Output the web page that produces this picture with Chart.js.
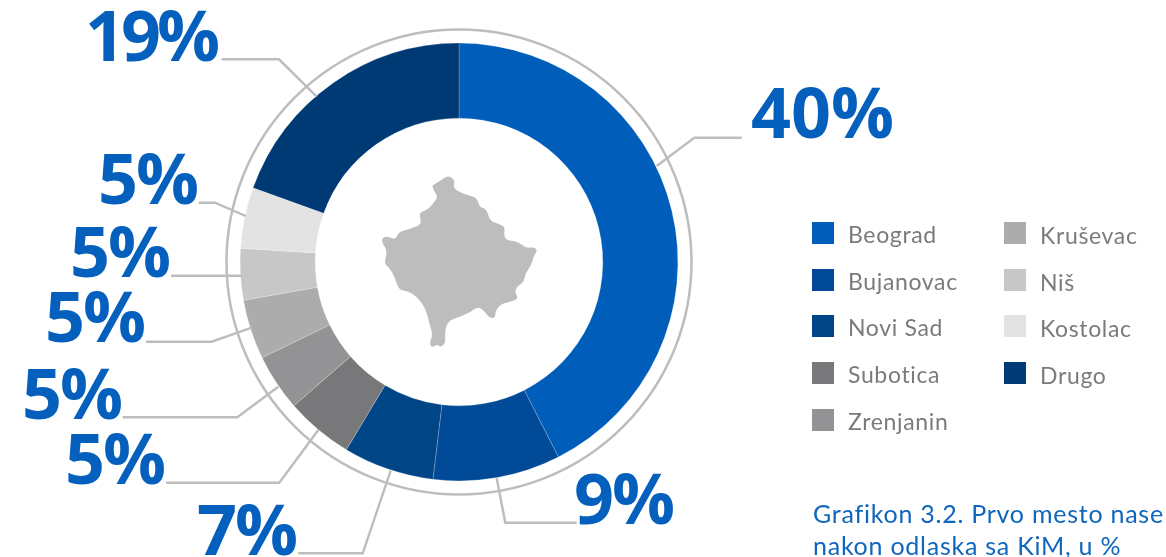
<!DOCTYPE html>
<html>
<head>
<meta charset="utf-8">
<script src="https://cdn.jsdelivr.net/npm/chart.js@4"></script>
<style>
html,body{margin:0;padding:0;background:#fff;overflow:hidden}
canvas{display:block}
</style>
</head>
<body>
<canvas id="c" width="1166" height="557"></canvas>
<script>
const categories = ["Beograd","Bujanovac","Novi Sad","Subotica","Zrenjanin","Kruševac","Niš","Kostolac","Drugo"];
// Printed percentages on the chart.
const printedLabels = ["40%","9%","7%","5%","5%","5%","5%","5%","19%"];
// Slice shares as actually drawn in the picture (the source's arcs are not strictly proportional to the printed numbers).
const drawnShares = [42.5,9.4,6.7,5,4.2,4.4,3.8,4.5,19.5];
const sliceColors = ["#005dba","#004a98","#004586","#78787a","#939395","#acacac","#c7c7c7","#e3e3e3","#003a75"];
const captionLines = ["Grafikon 3.2. Prvo mesto nase","nakon odlaska sa KiM, u %"];

const BLUE = "#0560bd", GREY = "#bdbdbd";
const labelAnchors = [[892,138],[673,524],[296,555],[164,484],[121,419],[144,342],[169,277],[197,204],[218,61]];
const labelTracking = [0,-2,-2,-2,-2,-2,-2,-2,-4];
const leaders = [
 [[741.7,137.7],[694.3,137.7],[656.7,166]],
 [[576.7,522.7],[505.3,522.7],[496.7,478.3]],
 [[298.3,553.3],[362.7,553.3],[390.7,470.7]],
 [[166,482.7],[279.3,482.7],[318.3,430]],
 [[122.7,417.3],[237.3,417.3],[278.3,386.7]],
 [[146,341.7],[211.7,341.7],[251.7,327.7]],
 [[171,275.7],[241.7,275.7]],
 [[198.7,202.7],[215,202.7],[245.7,216]],
 [[221.7,59.3],[279,59.3],[316.7,96.7]]
];
const legendSlots = [[812,222],[812,269],[812,315],[812,362],[812,409],[1004,222],[1004,269],[1004,315],[1004,362]];
const mapOutline = [[222,80],[240,68],[262,53],[278,58],[285,72],[280,85],[292,98],[320,108],[350,118],[358,145],[378,150],[388,185],[415,195],[433,203],[428,240],[465,245],[482,255],[495,265],[518,262],[528,272],[515,292],[510,315],[492,340],[488,365],[465,380],[462,395],[472,415],[440,425],[420,430],[405,448],[403,472],[385,470],[372,450],[352,437],[330,455],[290,470],[262,482],[255,520],[258,540],[245,558],[232,548],[218,558],[210,545],[220,520],[208,480],[200,445],[175,410],[148,392],[120,388],[108,350],[92,322],[77,312],[85,280],[80,262],[68,245],[75,232],[88,232],[112,240],[118,218],[150,210],[188,195],[180,170],[185,158],[205,152],[220,135],[235,115],[225,100],[218,82]];

const decorations = {
  id: "decorations",
  beforeDatasetsDraw(chart) {
    const ctx = chart.ctx, arc = chart.getDatasetMeta(0).data[0];
    ctx.save();
    // outer ring
    ctx.strokeStyle = GREY; ctx.lineWidth = 2.5;
    ctx.beginPath(); ctx.arc(arc.x, arc.y, 232.5, 0, Math.PI * 2); ctx.stroke();
    // map
    ctx.fillStyle = GREY; ctx.beginPath();
    const pts = mapOutline.map(p => [459 + (p[0] / 3 + 360 - 459) * 1.02, 262.5 + (p[1] / 3 + 160 - 262.5) * 1.02]);
    pts.forEach((p, i) => {
      const n = pts[(i + 1) % pts.length];
      const mx = (p[0] + n[0]) / 2, my = (p[1] + n[1]) / 2;
      if (i === 0) ctx.moveTo(mx, my);
      else ctx.quadraticCurveTo(p[0], p[1], mx, my);
    });
    const a = pts[0], b = pts[1];
    ctx.quadraticCurveTo(a[0], a[1], (a[0] + b[0]) / 2, (a[1] + b[1]) / 2);
    ctx.closePath(); ctx.fill();
    ctx.restore();
  },
  afterDatasetsDraw(chart) {
    const ctx = chart.ctx;
    ctx.save();
    // leader lines
    ctx.strokeStyle = GREY; ctx.lineWidth = 2.4; ctx.lineJoin = "miter";
    leaders.forEach(l => {
      ctx.beginPath();
      l.forEach((p, i) => i ? ctx.lineTo(p[0], p[1]) : ctx.moveTo(p[0], p[1]));
      ctx.stroke();
    });
    // printed percentages
    ctx.fillStyle = BLUE; ctx.textAlign = "left"; ctx.textBaseline = "alphabetic";
    ctx.font = '700 70px "Open Sans"';
    printedLabels.forEach((t, i) => {
      ctx.letterSpacing = labelTracking[i] + "px";
      const w = ctx.measureText(t).width;
      ctx.fillText(t, labelAnchors[i][0] + 2 - w + labelTracking[i], labelAnchors[i][1]);
    });
    // legend
    ctx.font = '400 23px Lato';
    ctx.letterSpacing = "0.65px";
    categories.forEach((c, i) => {
      const s = legendSlots[i];
      ctx.fillStyle = sliceColors[i]; ctx.fillRect(s[0], s[1], 22, 22);
      ctx.fillStyle = "#7b7b7d"; ctx.fillText(c, s[0] + 36, s[1] + (i < 5 ? 20.5 : 21.5));
    });
    // caption
    ctx.fillStyle = "#0f66bd"; ctx.font = '400 25px Lato';
    ctx.letterSpacing = "0.75px";
    captionLines.forEach((t, i) => ctx.fillText(t, 813, 522.5 + i * 32));
    ctx.restore();
  }
};

new Chart(document.getElementById("c"), {
  type: "doughnut",
  data: { labels: categories, datasets: [{ data: drawnShares, backgroundColor: sliceColors, borderColor: "#ffffff", borderWidth: 0.2 }] },
  options: {
    responsive: false, animation: false, cutout: "65.7%",
    layout: { padding: { left: 240, right: 488, top: 43, bottom: 76 } },
    plugins: { legend: { display: false }, tooltip: { enabled: false } }
  },
  plugins: [decorations]
});
</script>
</body>
</html>
